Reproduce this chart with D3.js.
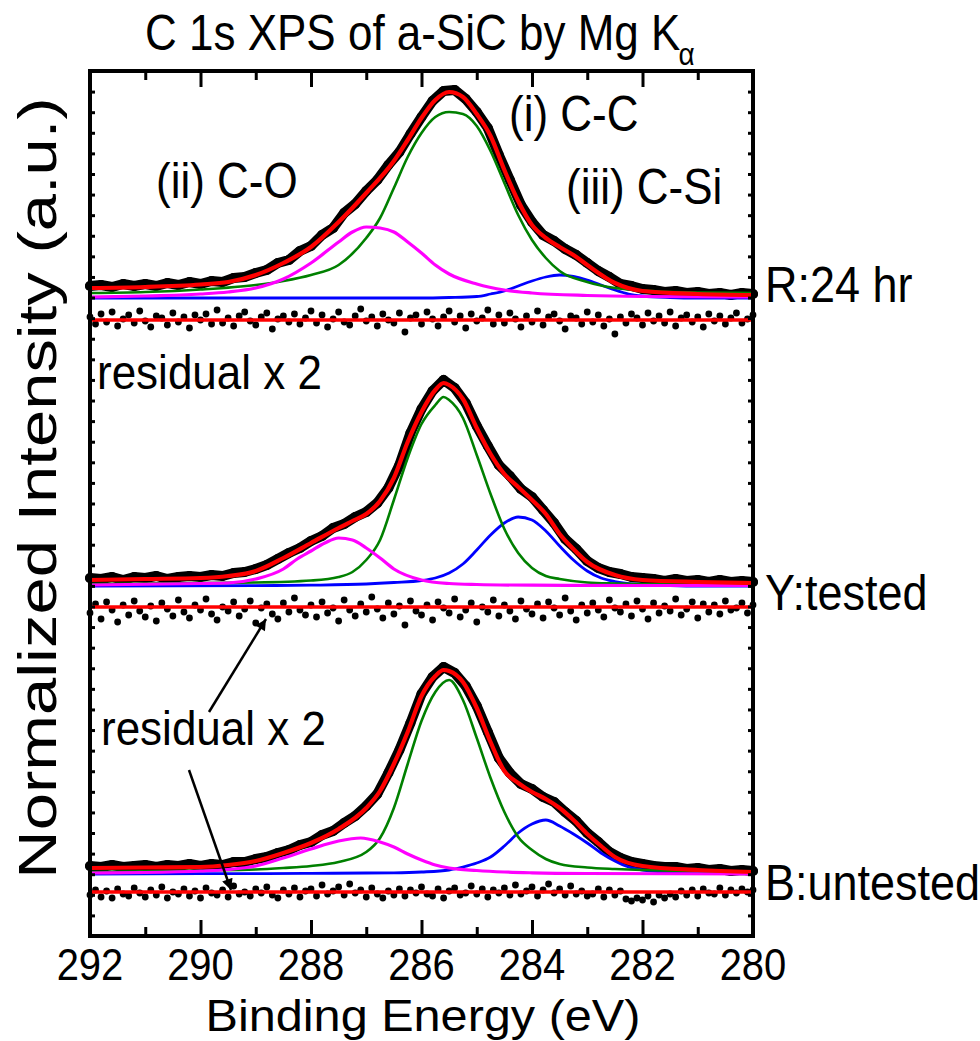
<!DOCTYPE html>
<html>
<head>
<meta charset="utf-8">
<script src="https://cdn.jsdelivr.net/npm/d3@7"></script>
<style>
  body { margin: 0; background: #fff; }
  svg text { font-family: "Liberation Sans", Arial, Helvetica, sans-serif; fill: #000; }
</style>
</head>
<body>
<div id="chart"></div>
<script>
// ---- axis values ----
const majorTicks = [292, 290, 288, 286, 284, 282, 280];
const minorTicks = [291, 289, 287, 285, 283, 281];
const yMax = 865;                 // arbitrary intensity units (a.u.)
const yTickCount = 42;

// sample grids of the measurement (eV)
const datE = d3.range(61).map(i => +(292 - 0.2 * i).toFixed(1));
const resE = d3.range(121).map(i => +(292 - 0.1 * i).toFixed(1));

// ---- R:24 hr ----
const topData = [12,13,11,14,12,14,12,15,13,16,14,17,16,20,21,25,28,35,38,47,52,63,70,85,94,107,118,133,146,164,
  181,197,207,208,199,186,170,143,118,93,76,63,57,49,43,35,27,21,14,12,9,8,6,7,5,6,4,5,3,5,4];
const topResid = [3,-4,6,-2,8,-6,1,5,-3,9,-1,-7,4,2,-5,7,-2,3,-8,5,
  0,6,-4,10,-3,2,-6,4,8,-1,-5,3,7,-9,1,4,-2,6,-4,2,
  9,-3,5,-7,1,8,-2,-5,4,11,-1,3,-6,6,0,-3,7,-12,2,5,
  -4,8,1,-6,3,9,-2,4,-8,6,-1,2,10,-4,5,-3,7,1,-7,4,
  -2,9,-5,3,6,-1,-9,4,2,-4,8,-2,5,-6,1,-14,3,-3,6,2,
  -5,7,-1,4,-3,8,-6,2,5,-2,3,-7,6,-1,4,-4,2,7,-3,1,5];
const topFit = [[292,10],[291,11],[290,13.5],[289.5,16],[289,23],[288.5,35],[288,51],[287.5,76],[287,105],[286.5,137],
  [286.25,158],[286,180],[285.75,198],[285.5,206],[285.25,201],[285,184],[284.75,162],[284.5,128],[284.25,97],[284,73],
  [283.75,60],[283.5,51],[283.25,43],[283,33],[282.5,15],[282,7],[281,4],[280,3]];
const topCC = [[292,5],[291,6],[290,8.5],[289,13],[288.5,17],[288,23],[287.5,33],[287,60],[286.75,80],[286.5,110],
  [286.25,141],[286,165],[285.75,181],[285.5,186],[285.25,184],[285,172],[284.75,147],[284.5,115],[284.25,83],[284,58],
  [283.75,40],[283.5,27],[283,16],[282.5,10],[282,7.5],[281,5.5],[280,5]];
const topCO = [[292,1],[291,2],[290,4],[289.5,6],[289,10],[288.5,19],[288,35],[287.5,56],[287.25,66],[287,71],
  [286.75,70],[286.5,66],[286.25,56],[286,45],[285.75,33],[285.5,24],[285,14],[284.5,8],[284,5],[283,2.5],[282,1.5],[280,1]];
const topCSi = [[292,0],[286,0],[285.5,0.5],[285,1.5],[284.75,4],[284.5,7],[284.25,12],[284,17],[283.75,21],[283.5,23],
  [283.25,21.5],[283,18],[282.75,13],[282.5,8],[282.25,4],[282,2],[281.5,0.5],[281,0],[280,0]];

// ---- Y:tested ----
const midData = [8,7,9,6,9,8,10,7,9,10,9,11,10,13,14,17,21,27,33,38,45,50,58,62,69,74,83,98,121,153,
  177,195,206,198,183,160,140,121,110,97,89,76,63,47,37,25,18,14,12,9,8,7,5,7,5,6,4,6,4,5,4];
const midResid = [-6,3,-12,5,-3,-15,2,-8,6,-4,-10,1,-14,4,-2,-9,7,-5,-11,2,
  -3,8,-7,-13,0,-4,5,-9,-2,6,-16,-1,3,-7,-12,4,-5,9,-3,-8,
  2,-10,5,-6,-1,-14,7,-3,-9,3,-5,10,-2,-11,4,-7,1,-18,6,-4,
  -8,2,-13,5,-1,-6,8,-10,-3,4,-15,0,-5,7,-9,2,-4,-12,6,-2,
  -7,3,-11,5,-1,-8,9,-4,-13,2,-6,4,-3,-10,7,-1,-5,3,-9,6,
  -2,-12,4,-6,1,-4,8,-8,-2,5,-11,3,-5,2,-7,6,-3,-1,4,-6,2];
const midFit = [[292,6],[291,7],[290,8],[289.5,10],[289,15],[288.5,28],[288,43],[287.5,58],[287.25,65],[287,72],
  [286.75,85],[286.5,108],[286.25,144],[286,174],[285.75,196],[285.6,203],[285.5,201],[285.25,187],[285,158],[284.75,132],
  [284.5,112],[284.25,99],[284,86],[283.75,72],[283.5,52],[283.25,37],[283,24],[282.5,11],[282,6],[281,4],[280,3]];
const midCC = [[292,2],[290,3],[289,3.5],[288,5.5],[287.5,9],[287.25,14],[287,26],[286.75,46],[286.5,86],[286.25,128],
  [286,162],[285.75,181],[285.6,189],[285.5,186],[285.25,168],[285,131],[284.75,92],[284.5,57],[284.25,33],[284,18],
  [283.75,10],[283.5,7],[283,3.5],[282.5,2.5],[282,2],[281,1.2],[280,1]];
const midCO = [[292,1],[290,2.5],[289.5,3],[289,7],[288.5,17],[288.25,27],[288,35],[287.75,43],[287.5,48],[287.25,46],
  [287,38],[286.75,28],[286.5,17],[286,6],[285.5,2.5],[285,1.5],[284,0.8],[282,0.5],[280,0.5]];
const midCSi = [[292,0],[289,0.4],[288,0.8],[287,2],[286.5,3.5],[286,5.5],[285.75,8],[285.5,13],[285.25,22],[285,36],
  [284.75,51],[284.5,63],[284.25,69],[284,66],[283.75,55],[283.5,40],[283.25,26],[283,15],[282.75,8],[282.5,4.5],
  [282,1.5],[281.5,0.5],[281,0],[280,0]];

// ---- B:untested ----
const botData = [8,7,9,7,8,9,7,9,8,10,8,10,9,12,12,15,17,21,24,29,32,39,43,51,58,68,80,101,124,151,
  180,197,207,201,188,168,142,116,101,90,85,77,72,62,53,41,32,22,16,12,10,8,7,7,5,6,4,5,3,4,3];
const botResid = [-3,2,-5,1,-6,3,-2,-4,4,-1,-5,2,-3,5,-6,0,-2,3,-4,1,
  -6,4,-1,-3,2,-5,6,-2,0,-4,3,-1,5,-3,-6,2,-2,4,-5,1,
  3,-4,7,-2,1,5,-3,8,-1,2,-5,4,-2,-6,1,-3,3,-4,2,-1,
  5,-2,-4,3,-6,1,4,-3,-1,6,-2,3,-5,2,-1,4,-3,7,-2,1,
  5,-4,2,8,-1,3,-3,6,-2,1,-4,-2,3,-5,2,-3,1,-7,-9,-6,
  -8,-4,-10,-3,-6,-2,-5,1,-3,2,-4,3,-1,-2,4,-3,2,-1,3,0,2];
const botFit = [[292,6],[291,6.5],[290,7],[289.5,9],[289,13],[288.5,21],[288,31],[287.5,45],[287,66],[286.75,83],
  [286.5,110],[286.25,142],[286,178],[285.75,198],[285.6,204],[285.5,203],[285.25,192],[285,166],[284.75,132],[284.5,103],
  [284.25,91],[284,82],[283.75,75],[283.5,66],[283.25,54],[283,40],[282.75,28],[282.5,17],[282,8],[281,4],[280,2]];
const botCC = [[292,2],[290,3.5],[289,4.5],[288.5,6],[288,8],[287.5,12],[287,22],[286.75,36],[286.5,66],[286.25,110],
  [286,153],[285.75,182],[285.5,194],[285.25,174],[285,136],[284.75,96],[284.5,62],[284.25,37],[284,24],[283.75,15],
  [283.5,10],[283,6.5],[282.5,5],[282,4],[281,2.5],[280,2]];
const botCO = [[292,1],[291,1.5],[290,3],[289.5,4.5],[289,8],[288.5,16],[288,25],[287.5,33],[287.1,36],[286.75,32],
  [286.5,27],[286.25,20],[286,14],[285.75,9],[285.5,6],[285,3.5],[284.5,2],[284,1.2],[283,0.5],[280,0]];
const botCSi = [[292,0],[290,0.3],[288,0.6],[287,1],[286.5,1.2],[286,2],[285.5,4],[285.25,7],[285,11],[284.75,17],
  [284.5,28],[284.25,41],[284,50],[283.75,54],[283.5,48],[283.25,40],[283,31],[282.75,21],[282.5,13],[282.25,7],
  [282,4],[281.5,2],[281,1.2],[280,1]];

// stacking offsets of each spectrum and of its residual trace
const sampleNames = ['R:24 hr', 'Y:tested', 'B:untested'];
const spectrumOffsets = [638, 350, 62];
const residualOffsets = [616, 329, 44];

const panels = sampleNames.map((name, i) => ({
  name,
  base: spectrumOffsets[i],
  zero: residualOffsets[i],
  data: [topData, midData, botData][i],
  resid: [topResid, midResid, botResid][i],
  fit: [topFit, midFit, botFit][i],
  cc: [topCC, midCC, botCC][i],
  co: [topCO, midCO, botCO][i],
  csi: [topCSi, midCSi, botCSi][i]
}));

// ---- layout ----
const W = 980, H = 1041;
const frame = { left: 90, right: 753, top: 71, bottom: 936 };
const labelBaselines = [302, 610, 900];

const svg = d3.select('#chart').append('svg').attr('width', W).attr('height', H);

const x = d3.scaleLinear().domain([292, 280]).range([frame.left, frame.right]);
const y = d3.scaleLinear().domain([0, yMax]).range([frame.bottom, frame.top]);

const smooth = d3.line().x(d => x(d[0])).y(d => y(d[1])).curve(d3.curveMonotoneX);
const straight = d3.line().x(d => x(d[0])).y(d => y(d[1]));

// spectra
panels.forEach(p => {
  const g = svg.append('g').attr('class', 'panel');
  const pts = datE.map((e, i) => [e, p.base + p.data[i]]);
  const res = resE.map((e, i) => [e, p.zero + p.resid[i]]);

  g.append('path')
    .attr('d', straight(pts))
    .attr('fill', 'none')
    .attr('stroke', '#000')
    .attr('stroke-width', 10)
    .attr('stroke-linejoin', 'round')
    .attr('stroke-linecap', 'round');

  g.selectAll('circle.dat')
    .data(pts)
    .join('circle')
    .attr('class', 'dat')
    .attr('cx', d => x(d[0]))
    .attr('cy', d => y(d[1]))
    .attr('r', 5)
    .attr('fill', '#000');

  g.selectAll('circle.res')
    .data(res)
    .join('circle')
    .attr('class', 'res')
    .attr('cx', d => x(d[0]))
    .attr('cy', d => y(d[1]))
    .attr('r', 3.4)
    .attr('fill', '#000');

  g.append('path')
    .attr('d', straight([[292, p.zero], [280, p.zero]]))
    .attr('stroke', '#ff0000')
    .attr('stroke-width', 3.5);

  [['csi', '#0000ff', 2.8], ['cc', '#008000', 2.6], ['co', '#ff00ff', 3.2], ['fit', '#ff0000', 4.2]]
    .forEach(([key, color, w]) => {
      g.append('path')
        .attr('d', smooth(p[key].map(d => [d[0], p.base + d[1]])))
        .attr('fill', 'none')
        .attr('stroke', color)
        .attr('stroke-width', w);
    });
});

// ---- axes ----
const yTicks = d3.range(1, yTickCount).map(i => i * yMax / yTickCount);

const styleAxis = g => {
  g.select('.domain').remove();
  g.selectAll('line').attr('stroke', '#000').attr('stroke-width', 3);
};

svg.append('g')
  .attr('transform', `translate(0,${frame.bottom})`)
  .call(d3.axisBottom(x).tickValues(majorTicks).tickSize(-16).tickSizeOuter(0).tickFormat(''))
  .call(styleAxis);

svg.append('g')
  .attr('transform', `translate(0,${frame.bottom})`)
  .call(d3.axisBottom(x).tickValues(minorTicks).tickSize(-9).tickSizeOuter(0).tickFormat(''))
  .call(styleAxis);

svg.append('g')
  .attr('transform', `translate(0,${frame.top})`)
  .call(d3.axisTop(x).tickValues(majorTicks).tickSize(-16).tickSizeOuter(0).tickFormat(''))
  .call(styleAxis);

svg.append('g')
  .attr('transform', `translate(0,${frame.top})`)
  .call(d3.axisTop(x).tickValues(minorTicks).tickSize(-9).tickSizeOuter(0).tickFormat(''))
  .call(styleAxis);

svg.append('g')
  .attr('transform', `translate(${frame.left},0)`)
  .call(d3.axisLeft(y).tickValues(yTicks).tickSize(-5).tickSizeOuter(0).tickFormat(''))
  .call(styleAxis);

svg.append('g')
  .attr('transform', `translate(${frame.right},0)`)
  .call(d3.axisRight(y).tickValues(yTicks).tickSize(-5).tickSizeOuter(0).tickFormat(''))
  .call(styleAxis);

svg.append('rect')
  .attr('x', frame.left)
  .attr('y', frame.top)
  .attr('width', frame.right - frame.left)
  .attr('height', frame.bottom - frame.top)
  .attr('fill', 'none')
  .attr('stroke', '#000')
  .attr('stroke-width', 4);

// tick labels (tall, narrow glyphs as in the original)
svg.append('g')
  .selectAll('text')
  .data(majorTicks)
  .join('text')
  .attr('transform', d => `translate(${x(d)},980) scale(1,1.12)`)
  .attr('font-size', 40)
  .attr('text-anchor', 'middle')
  .text(d => d);

// ---- text ----
const label = (txt, px, py, size, sx, sy, anchor) => svg.append('text')
  .attr('transform', `translate(${px},${py}) scale(${sx},${sy})`)
  .attr('font-size', size)
  .attr('text-anchor', anchor || 'start')
  .text(txt);

const title = label('', 145, 50, 44, 1, 1.12);
title.append('tspan').text('C 1s XPS of a-SiC by Mg K');
title.append('tspan').attr('font-size', 28).attr('dx', -2).attr('dy', 13).text('α');

label('Binding Energy (eV)', 423, 1031, 45, 1.08, 1, 'middle');

svg.append('text')
  .attr('transform', 'translate(56,488) rotate(-90) scale(1.24,1)')
  .attr('font-size', 54)
  .attr('text-anchor', 'middle')
  .text('Normalized Intensity (a.u.)');

panels.forEach((p, i) => label(p.name, x(280) + 12, labelBaselines[i], 45, 1, 1.12));

label('(i) C-C', 509, 131, 44, 1, 1.12);
label('(ii) C-O', 156, 198, 44, 1, 1.12);
label('(iii) C-Si', 566, 204, 44, 1, 1.12);
label('residual x 2', 97, 389, 44, 1, 1.08);
label('residual x 2', 101, 745, 44, 1, 1.08);

// arrows pointing at the residual traces
const defs = svg.append('defs');
defs.append('marker')
  .attr('id', 'head')
  .attr('viewBox', '0 0 10 10')
  .attr('refX', 10)
  .attr('refY', 5)
  .attr('markerWidth', 17)
  .attr('markerHeight', 11)
  .attr('markerUnits', 'userSpaceOnUse')
  .attr('orient', 'auto')
  .append('path')
  .attr('d', 'M0,0L10,5L0,10z')
  .attr('fill', '#000');

[[[209, 712], [266, 619]], [[189, 770], [231, 890]]].forEach(([a, b]) => {
  svg.append('line')
    .attr('x1', a[0]).attr('y1', a[1])
    .attr('x2', b[0]).attr('y2', b[1])
    .attr('stroke', '#000')
    .attr('stroke-width', 2.5)
    .attr('marker-end', 'url(#head)');
});
</script>
</body>
</html>
